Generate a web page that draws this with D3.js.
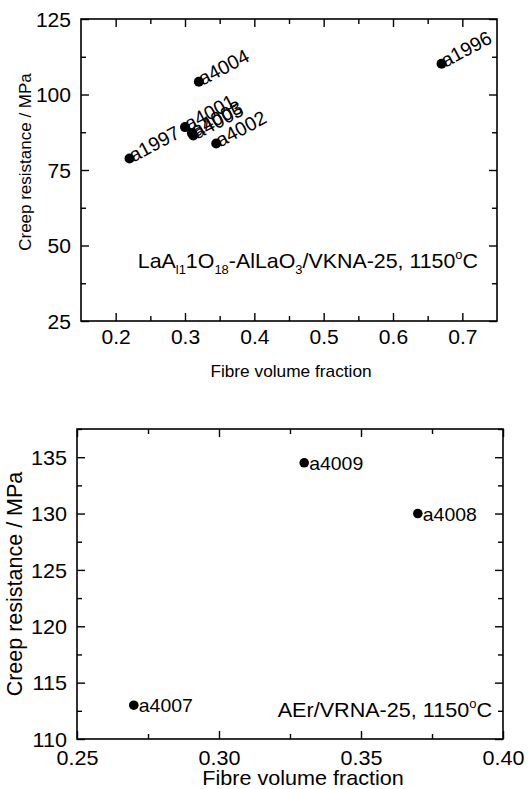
<!DOCTYPE html>
<html><head><meta charset="utf-8">
<script src="https://cdn.jsdelivr.net/npm/d3@7"></script>
<style>
html,body{margin:0;padding:0;background:#fff;}
svg{display:block;font-family:"Liberation Sans",Arial,sans-serif;}
</style></head>
<body>
<svg id="chart" width="528" height="789"></svg>
<script>
// ---- Data: top panel ----
const topLabels = ["a1997","a4001","a4003","a4005","a4004","a4002","a1996"];
const topX = [0.22,0.30,0.31,0.312,0.32,0.345,0.67];
const topY = [78.8,89.2,87.2,86.4,104.2,83.8,110.2];
const topXTicks = [0.2,0.3,0.4,0.5,0.6,0.7];
const topXMinor = [0.25,0.35,0.45,0.55,0.65];
const topYTicks = [25,50,75,100,125];
const topYMinor = [37.5,62.5,87.5,112.5];
// ---- Data: bottom panel ----
const botLabels = ["a4007","a4009","a4008"];
const botX = [0.27,0.33,0.37];
const botY = [113.0,134.5,130.0];
const botXTicks = [0.25,0.30,0.35,0.40];
const botXMinor = [0.275,0.325,0.375];
const botYTicks = [110,115,120,125,130,135];
const botYMinor = [112.5,117.5,122.5,127.5,132.5,137.5];

const SX = 1.08; // horizontal text stretch of the reference
const svg = d3.select("#chart");

function panel(cfg){
  const g = svg.append("g");
  const x = d3.scaleLinear().domain(cfg.xDom).range([cfg.left, cfg.right]);
  const y = d3.scaleLinear().domain(cfg.yDom).range([cfg.bottom, cfg.top]);
  const M = 8, m = 5;
  function ax(axisFn, scale, vals, size, pos, fmt, pad, fs){
    const a = axisFn(scale).tickValues(vals).tickSize(-size).tickPadding(pad||0)
      .tickFormat(fmt ? fmt : () => "");
    const sel = g.append("g").attr("transform", pos).call(a);
    sel.select(".domain").remove();
    sel.selectAll("line").attr("stroke","#000").attr("stroke-width",1.4);
    sel.selectAll("text").attr("font-size", fs||0).attr("fill","#000")
      .attr("font-family","Liberation Sans, Arial, sans-serif");
    return sel;
  }
  const bx = ax(d3.axisBottom, x, cfg.xTicks, M, `translate(0,${cfg.bottom})`, cfg.xFmt, cfg.xPad, cfg.tickFs);
  bx.selectAll("text").attr("transform",`scale(${SX},1)`);
  ax(d3.axisBottom, x, cfg.xMinor, m, `translate(0,${cfg.bottom})`);
  ax(d3.axisTop, x, cfg.xTicks, M, `translate(0,${cfg.top})`);
  ax(d3.axisTop, x, cfg.xMinor, m, `translate(0,${cfg.top})`);
  const ly = ax(d3.axisLeft, y, cfg.yTicks, M, `translate(${cfg.left},0)`, d3.format("d"), cfg.yPad, cfg.tickFs);
  ly.selectAll("text").attr("x", -cfg.yPad/SX).attr("dy","0.36em").attr("transform",`scale(${SX},1)`);
  ax(d3.axisLeft, y, cfg.yMinor, m, `translate(${cfg.left},0)`);
  ax(d3.axisRight, y, cfg.yTicks, M, `translate(${cfg.right},0)`);
  ax(d3.axisRight, y, cfg.yMinor, m, `translate(${cfg.right},0)`);
  g.append("rect").attr("x",cfg.left).attr("y",cfg.top)
    .attr("width",cfg.right-cfg.left).attr("height",cfg.bottom-cfg.top)
    .attr("fill","none").attr("stroke","#000").attr("stroke-width",1.6);
  return {g,x,y};
}

// ---------- TOP PANEL ----------
const T = panel({xDom:[0.15,0.75], yDom:[25,125], left:81, right:497, top:19, bottom:321,
  xTicks:topXTicks, xMinor:topXMinor, yTicks:topYTicks, yMinor:topYMinor,
  xFmt:d3.format(".1f"), xPad:9.5, yPad:10, tickFs:19.5});

const tData = topLabels.map((l,i)=>({l, x:topX[i], y:topY[i]}));
T.g.selectAll("circle.pt").data(tData).join("circle").attr("class","pt")
  .attr("cx",d=>T.x(d.x)).attr("cy",d=>T.y(d.y)).attr("r",5).attr("fill","#000");
T.g.selectAll("text.lab").data(tData).join("text").attr("class","lab")
  .attr("transform",d=>`translate(${T.x(d.x)+4},${T.y(d.y)+4}) rotate(-28)`)
  .attr("font-size",19.5).attr("fill","#000").text(d=>d.l);

// annotation with sub/superscripts
const ann1 = T.g.append("text").attr("text-anchor","end")
  .attr("transform",`translate(478,268) scale(${SX},1)`).attr("font-size",19.8).attr("fill","#000");
ann1.append("tspan").text("LaA");
ann1.append("tspan").attr("font-size",12).attr("dy",6).text("l1");
ann1.append("tspan").attr("dy",-6).text("1O");
ann1.append("tspan").attr("font-size",12).attr("dy",6).text("18");
ann1.append("tspan").attr("dy",-6).text("-AlLaO");
ann1.append("tspan").attr("font-size",12).attr("dy",6).text("3");
ann1.append("tspan").attr("dy",-6).text("/VKNA-25, 1150");
ann1.append("tspan").attr("font-size",12).attr("dy",-9).text("o");
ann1.append("tspan").attr("dy",9).text("C");

T.g.append("text").attr("text-anchor","middle")
  .attr("transform",`translate(291,377) scale(${SX},1)`).attr("font-size",16).attr("fill","#000")
  .text("Fibre volume fraction");
T.g.append("text").attr("text-anchor","middle")
  .attr("transform",`translate(31,162) rotate(-90)`).attr("font-size",17).attr("fill","#000")
  .text("Creep resistance / MPa");

// ---------- BOTTOM PANEL ----------
const B = panel({xDom:[0.25,0.40], yDom:[110,137.5], left:77, right:503, top:429, bottom:739,
  xTicks:botXTicks, xMinor:botXMinor, yTicks:botYTicks, yMinor:botYMinor,
  xFmt:d3.format(".2f"), xPad:11.8, yPad:10, tickFs:20});

const bData = botLabels.map((l,i)=>({l, x:botX[i], y:botY[i]}));
B.g.selectAll("circle.pt").data(bData).join("circle").attr("class","pt")
  .attr("cx",d=>B.x(d.x)).attr("cy",d=>B.y(d.y)).attr("r",4.8).attr("fill","#000");
B.g.selectAll("text.lab").data(bData).join("text").attr("class","lab")
  .attr("transform",d=>`translate(${B.x(d.x)+5},${B.y(d.y)+7}) scale(${SX},1)`)
  .attr("font-size",18).attr("fill","#000").text(d=>d.l);

const ann2 = B.g.append("text").attr("text-anchor","end")
  .attr("transform",`translate(492,717) scale(${SX},1)`).attr("font-size",20).attr("fill","#000");
ann2.append("tspan").text("AEr/VRNA-25, 1150");
ann2.append("tspan").attr("font-size",12).attr("dy",-9).text("o");
ann2.append("tspan").attr("dy",9).text("C");

B.g.append("text").attr("text-anchor","middle")
  .attr("transform",`translate(303,785) scale(${SX},1)`).attr("font-size",20).attr("fill","#000")
  .text("Fibre volume fraction");
B.g.append("text").attr("text-anchor","middle")
  .attr("transform",`translate(22,584) rotate(-90)`).attr("font-size",21.5).attr("fill","#000")
  .text("Creep resistance / MPa");
</script>
</body></html>
